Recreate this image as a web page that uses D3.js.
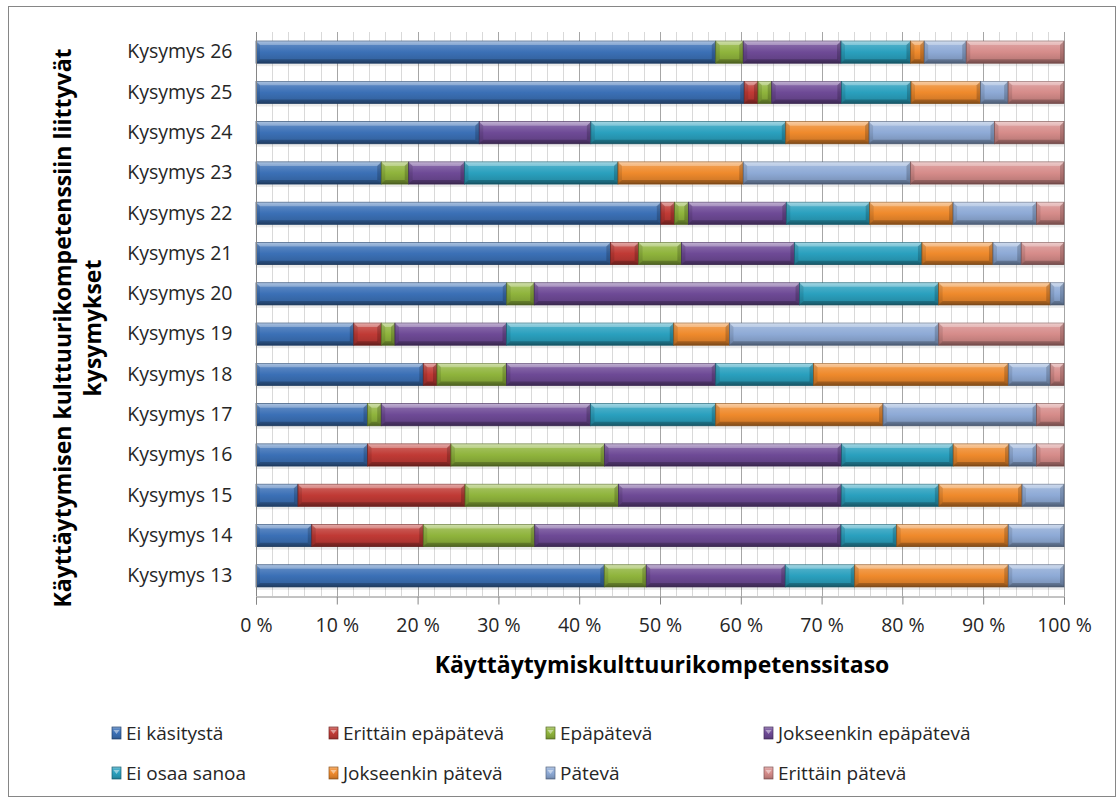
<!DOCTYPE html>
<html>
<head>
<meta charset="utf-8">
<script src="https://cdn.jsdelivr.net/npm/d3@7"></script>
<style>
  html, body { margin: 0; padding: 0; background: #fff; }
  svg { display: block; font-family: "Open Sans", "Noto Sans", sans-serif; }
</style>
</head>
<body>
<script>
// Questions, bottom to top
const categories = ["Kysymys 13", "Kysymys 14", "Kysymys 15", "Kysymys 16", "Kysymys 17",
  "Kysymys 18", "Kysymys 19", "Kysymys 20", "Kysymys 21", "Kysymys 22", "Kysymys 23",
  "Kysymys 24", "Kysymys 25", "Kysymys 26"];

const seriesNames = ["Ei käsitystä", "Erittäin epäpätevä", "Epäpätevä", "Jokseenkin epäpätevä",
  "Ei osaa sanoa", "Jokseenkin pätevä", "Pätevä", "Erittäin pätevä"];

// Share of answers (%) per question, one array per answer level
const eiKasitysta        = [43.1, 6.9, 5.2, 13.8, 13.8, 20.7, 12.1, 31.0, 43.9, 50.0, 15.5, 27.6, 60.3, 56.9];
const erittainEpapateva  = [0, 13.8, 20.7, 10.3, 0, 1.7, 3.4, 0, 3.5, 1.7, 0, 0, 1.7, 0];
const epapateva          = [5.2, 13.8, 19.0, 19.0, 1.7, 8.6, 1.7, 3.4, 5.3, 1.7, 3.4, 0, 1.7, 3.4];
const jokseenkinEpapat   = [17.2, 37.9, 27.6, 29.3, 25.9, 25.9, 13.8, 32.8, 14.0, 12.1, 6.9, 13.8, 8.6, 12.1];
const eiOsaaSanoa        = [8.6, 6.9, 12.1, 13.8, 15.5, 12.1, 20.7, 17.2, 15.8, 10.3, 19.0, 24.1, 8.6, 8.6];
const jokseenkinPateva   = [19.0, 13.8, 10.3, 6.9, 20.7, 24.1, 6.9, 13.8, 8.8, 10.3, 15.5, 10.3, 8.6, 1.7];
const pateva             = [6.9, 6.9, 5.2, 3.4, 19.0, 5.2, 25.9, 1.7, 3.5, 10.3, 20.7, 15.5, 3.4, 5.2];
const erittainPateva     = [0, 0, 0, 3.4, 3.4, 1.7, 15.5, 0, 5.3, 3.4, 19.0, 8.6, 6.9, 12.1];

const xTicks = [0, 0.1, 0.2, 0.3, 0.4, 0.5, 0.6, 0.7, 0.8, 0.9, 1.0];

const seriesValues = [eiKasitysta, erittainEpapateva, epapateva, jokseenkinEpapat,
  eiOsaaSanoa, jokseenkinPateva, pateva, erittainPateva];

const colors = ["#3b70b6", "#c03a35", "#8fb43c", "#6e4a96", "#2aa0be", "#ef8a2c", "#8eaad6", "#d68c8a"];

// Table built from the arrays for d3.stack
const table = categories.map((c, i) => {
  const row = { cat: c };
  seriesNames.forEach((s, j) => row[s] = seriesValues[j][i]);
  return row;
});

const W = 1118, H = 805;
const margin = { left: 256, right: 1064, top: 32, bottom: 596 };

const svg = d3.select("body").append("svg").attr("width", W).attr("height", H);

svg.append("rect").attr("x", 0).attr("y", 0).attr("width", W).attr("height", H).attr("fill", "#fff");
// outer chart frame
svg.append("rect").attr("x", 8.5).attr("y", 6.5).attr("width", 1107).attr("height", 790)
  .attr("fill", "#fff").attr("stroke", "#868686").attr("stroke-width", 1);

const x = d3.scaleLinear().domain([0, 1]).range([margin.left, margin.right]);
const y = d3.scaleBand().domain(categories.slice().reverse())
  .range([margin.top, margin.bottom]).paddingInner(0.45).paddingOuter(0.225);

const stack = d3.stack().keys(seriesNames).offset(d3.stackOffsetExpand);
const stacked = stack(table);

// gradients
const defs = svg.append("defs");
colors.forEach((c, i) => {
  const base = d3.color(c);
  const g = defs.append("linearGradient").attr("id", "grad" + i)
    .attr("x1", 0).attr("y1", 0).attr("x2", 0).attr("y2", 1);
  const lighten = k => d3.interpolateRgb(c, "#ffffff")(k);
  const darken = k => d3.interpolateRgb(c, "#000000")(k);
  g.append("stop").attr("offset", "0%").attr("stop-color", lighten(0.4));
  g.append("stop").attr("offset", "18%").attr("stop-color", lighten(0.15));
  g.append("stop").attr("offset", "50%").attr("stop-color", base.formatHex());
  g.append("stop").attr("offset", "85%").attr("stop-color", darken(0.12));
  g.append("stop").attr("offset", "100%").attr("stop-color", darken(0.3));
});

// grid
const grid = svg.append("g");
grid.selectAll("line.minor").data(x.ticks(50)).join("line")
  .attr("x1", d => Math.round(x(d)) + 0.5).attr("x2", d => Math.round(x(d)) + 0.5)
  .attr("y1", margin.top).attr("y2", margin.bottom)
  .attr("stroke", "#d9d9d9").attr("stroke-width", 1);
grid.selectAll("line.major").data(xTicks).join("line")
  .attr("x1", d => Math.round(x(d)) + 0.5).attr("x2", d => Math.round(x(d)) + 0.5)
  .attr("y1", margin.top).attr("y2", margin.bottom)
  .attr("stroke", "#a6a6a6").attr("stroke-width", 1);

// soft shadow under each bar row
svg.append("g").selectAll("rect").data(categories).join("rect")
  .attr("x", x(0)).attr("width", x(1) - x(0))
  .attr("y", d => y(d) + y.bandwidth()).attr("height", 3)
  .attr("fill", "#000").attr("opacity", 0.08);

// bars
const bevel = 4;
const barG = svg.append("g");
stacked.forEach((s, i) => {
  const g = barG.append("g");
  const c = colors[i];
  const segs = s.map(d => ({ x0: x(d[0]), x1: x(d[1]), y0: y(d.data.cat), y1: y(d.data.cat) + y.bandwidth() }))
    .filter(d => d.x1 - d.x0 > 0.2);
  g.selectAll("rect").data(segs).join("rect")
    .attr("x", d => d.x0).attr("y", d => d.y0)
    .attr("width", d => d.x1 - d.x0).attr("height", d => d.y1 - d.y0)
    .attr("fill", `url(#grad${i})`)
    .attr("stroke", d3.interpolateRgb(c, "#000")(0.4)).attr("stroke-width", 0.7);
  const b = d => Math.min(bevel, (d.x1 - d.x0) / 2);
  // top highlight
  g.selectAll("polygon.t").data(segs).join("polygon")
    .attr("points", d => `${d.x0},${d.y0} ${d.x1},${d.y0} ${d.x1 - b(d)},${d.y0 + bevel} ${d.x0 + b(d)},${d.y0 + bevel}`)
    .attr("fill", "#fff").attr("opacity", 0.28);
  // bottom shade
  g.selectAll("polygon.b").data(segs).join("polygon")
    .attr("points", d => `${d.x0},${d.y1} ${d.x1},${d.y1} ${d.x1 - b(d)},${d.y1 - bevel} ${d.x0 + b(d)},${d.y1 - bevel}`)
    .attr("fill", "#000").attr("opacity", 0.22);
  // left face
  g.selectAll("polygon.l").data(segs).join("polygon")
    .attr("points", d => `${d.x0},${d.y0} ${d.x0 + b(d)},${d.y0 + bevel} ${d.x0 + b(d)},${d.y1 - bevel} ${d.x0},${d.y1}`)
    .attr("fill", "#000").attr("opacity", 0.1);
  // right face
  g.selectAll("polygon.r").data(segs).join("polygon")
    .attr("points", d => `${d.x1},${d.y0} ${d.x1 - b(d)},${d.y0 + bevel} ${d.x1 - b(d)},${d.y1 - bevel} ${d.x1},${d.y1}`)
    .attr("fill", "#000").attr("opacity", 0.18);
});

// axes
const xAxis = d3.axisBottom(x).tickValues(xTicks).tickSize(8).tickPadding(14)
  .tickFormat(d => Math.round(d * 100) + " %");
const xg = svg.append("g").attr("transform", `translate(0,${margin.bottom + 0.5})`).call(xAxis);
xg.select(".domain").attr("stroke", "#868686");
xg.selectAll(".tick line").attr("stroke", "#868686");
xg.selectAll(".tick text").attr("fill", "#262626").style("font-size", "19.5px")
  .style("font-family", "'Open Sans', sans-serif");

const yAxis = d3.axisLeft(y).tickSize(0).tickPadding(24);
const yg = svg.append("g").attr("transform", `translate(${margin.left + 0.5},0)`).call(yAxis);
yg.select(".domain").attr("stroke", "#868686").attr("d", `M0,${margin.top}V${margin.bottom}`);
yg.selectAll(".tick text").attr("fill", "#262626").style("font-size", "19.5px")
  .style("font-family", "'Open Sans', sans-serif");

// axis titles
svg.append("text").attr("x", 662).attr("y", 673).attr("text-anchor", "middle")
  .style("font-size", "23px").style("font-weight", "bold").attr("fill", "#000")
  .text("Käyttäytymiskulttuurikompetenssitaso");

const yt = svg.append("text").attr("transform", "translate(0,328) rotate(-90)")
  .attr("text-anchor", "middle").style("font-size", "23px").style("font-weight", "bold").attr("fill", "#000");
yt.append("tspan").attr("x", 0).attr("y", 71).text("Käyttäytymisen kulttuurikompetenssiin liittyvät");
yt.append("tspan").attr("x", 0).attr("y", 101).text("kysymykset");

// legend
const legendCols = [112, 329, 546, 764];
const legendRows = [733, 773];
const leg = svg.append("g");
seriesNames.forEach((name, i) => {
  const lx = legendCols[i % 4], ly = legendRows[Math.floor(i / 4)];
  const g = leg.append("g").attr("transform", `translate(${lx},${ly})`);
  g.append("rect").attr("x", 0).attr("y", -6).attr("width", 9).attr("height", 12)
    .attr("fill", `url(#grad${i})`).attr("stroke", d3.interpolateRgb(colors[i], "#000")(0.4)).attr("stroke-width", 0.7);
  g.append("polygon").attr("points", "1.5,-3 7.5,-3 4.5,1").attr("fill", "#fff").attr("opacity", 0.45);
  g.append("text").attr("x", 14).attr("y", 0).attr("dy", "0.35em")
    .style("font-size", "19px").attr("fill", "#262626").text(name);
});
</script>
</body>
</html>
